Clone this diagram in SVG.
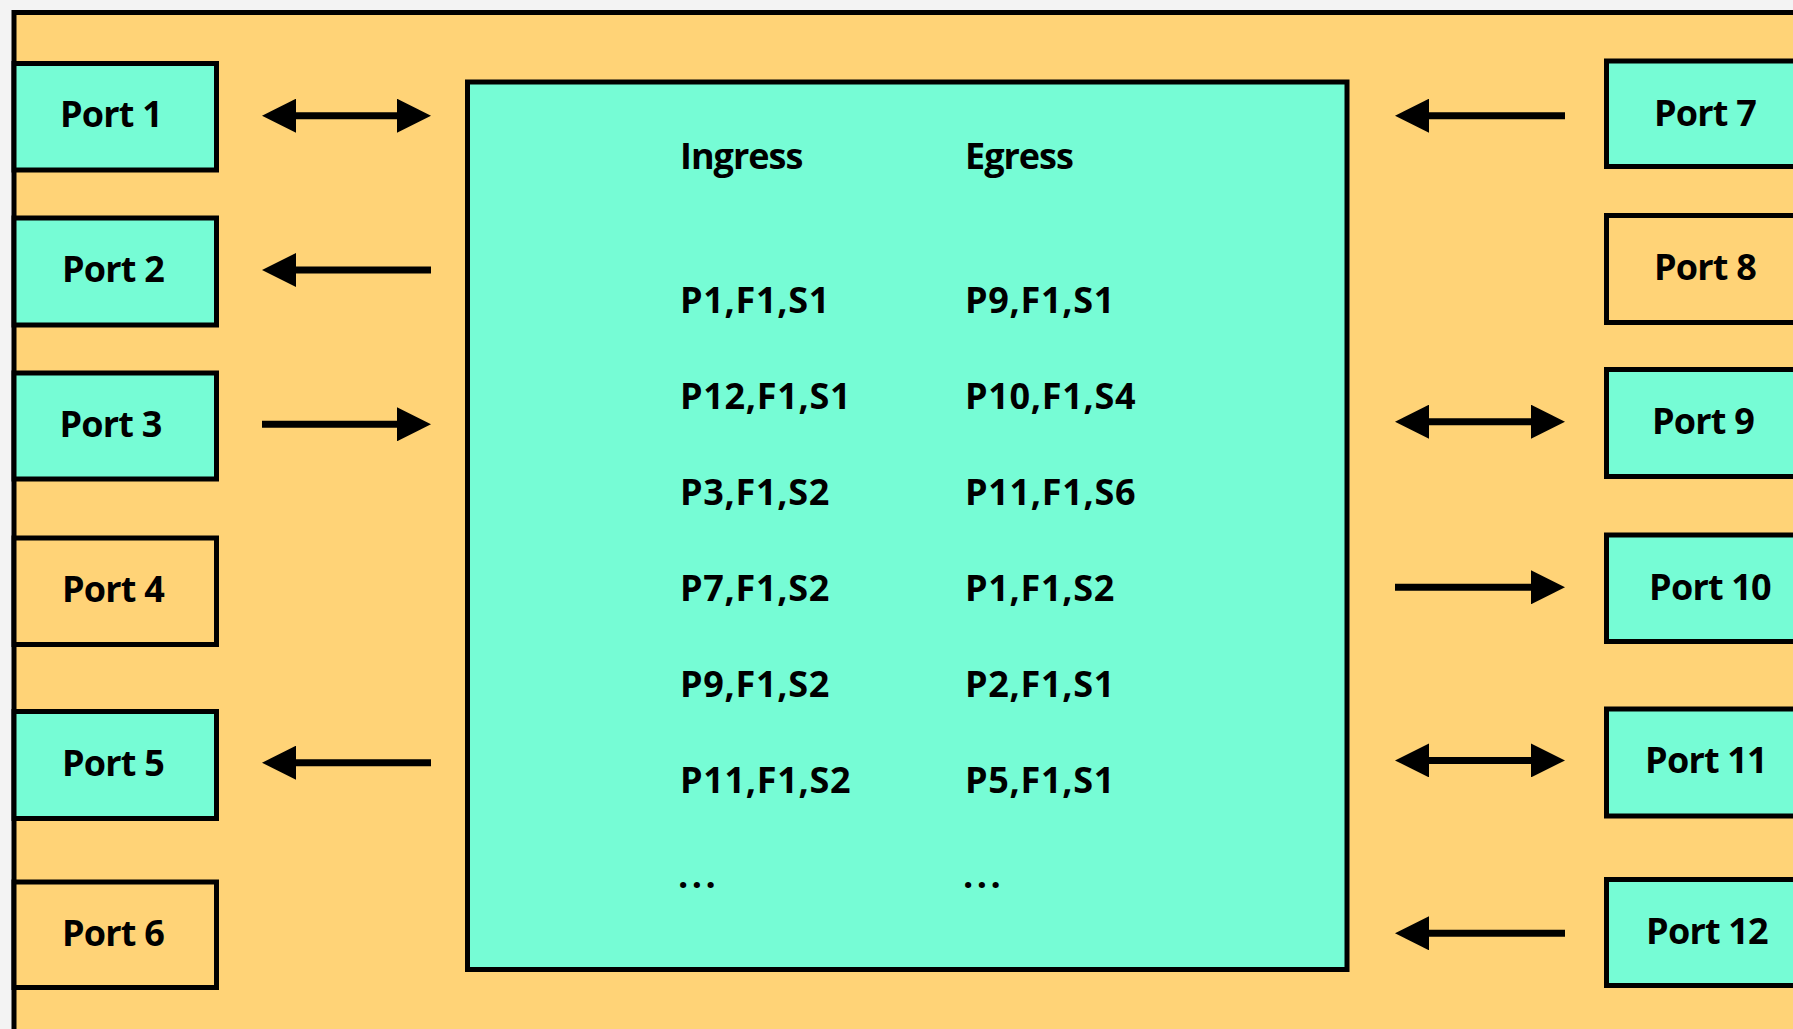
<svg xmlns="http://www.w3.org/2000/svg" width="1793" height="1029" viewBox="0 0 1793 1029">
  <style>
    .frame { fill: #FFD377; stroke: #000; stroke-width: 5; }
    .teal { fill: #76FCD5; stroke: #000; stroke-width: 5; }
    .amber { fill: #FFD377; stroke: #000; stroke-width: 5; }
    .lbl { font-family: "Open Sans", "Liberation Sans", sans-serif; font-weight: bold; font-size: 36px; fill: #000; text-anchor: middle; letter-spacing: -0.8px; }
    .tbl { font-family: "Open Sans", "Liberation Sans", sans-serif; font-weight: bold; font-size: 36px; fill: #000; letter-spacing: 0.7px; }
    .head { letter-spacing: -1px; }
    .dots { letter-spacing: 3.5px; }
    .link { stroke: #000; stroke-width: 7; fill: none; }
    .one { marker-end: url(#head); }
    .two { marker-start: url(#head); marker-end: url(#head); }
  </style>
  <defs>
    <marker id="head" markerUnits="userSpaceOnUse" markerWidth="34" markerHeight="34" viewBox="0 0 34 34" refX="4" refY="17" orient="auto-start-reverse">
      <path d="M0,0 L34,17 L0,34 Z" fill="#000"/>
    </marker>
  </defs>

  <!-- page background and outer frame (open to the right and bottom) -->
  <rect x="0" y="0" width="1793" height="1029" fill="#F3F3F3"/>
  <rect class="frame" x="14" y="12.5" width="1800" height="1040"/>

  <!-- forwarding table -->
  <g id="table">
    <rect class="teal" x="467.5" y="82" width="879.5" height="887.5"/>
    <text class="tbl head" x="680" y="169">Ingress</text>
    <text class="tbl head" x="965" y="169">Egress</text>
    <text class="tbl" x="680" y="312.7">P1,F1,S1</text>
    <text class="tbl" x="965" y="312.7">P9,F1,S1</text>
    <text class="tbl" x="680" y="408.7">P12,F1,S1</text>
    <text class="tbl" x="965" y="408.7">P10,F1,S4</text>
    <text class="tbl" x="680" y="504.7">P3,F1,S2</text>
    <text class="tbl" x="965" y="504.7">P11,F1,S6</text>
    <text class="tbl" x="680" y="600.7">P7,F1,S2</text>
    <text class="tbl" x="965" y="600.7">P1,F1,S2</text>
    <text class="tbl" x="680" y="696.7">P9,F1,S2</text>
    <text class="tbl" x="965" y="696.7">P2,F1,S1</text>
    <text class="tbl" x="680" y="792.7">P11,F1,S2</text>
    <text class="tbl" x="965" y="792.7">P5,F1,S1</text>
    <text class="tbl dots" x="678" y="888">...</text>
    <text class="tbl dots" x="963" y="888">...</text>
  </g>

  <!-- left ports -->
  <g id="port1"><rect class="teal" x="14" y="63.5" width="202.5" height="106.5"/><text class="lbl" x="111" y="127">Port 1</text></g>
  <g id="port2"><rect class="teal" x="14" y="218" width="202.5" height="107"/><text class="lbl" x="113" y="282">Port 2</text></g>
  <g id="port3"><rect class="teal" x="14" y="373" width="202.5" height="106"/><text class="lbl" x="110.5" y="437">Port 3</text></g>
  <g id="port4"><rect class="amber" x="14" y="538" width="202.5" height="106.5"/><text class="lbl" x="113" y="602">Port 4</text></g>
  <g id="port5"><rect class="teal" x="14" y="711.5" width="202.5" height="107"/><text class="lbl" x="113" y="776">Port 5</text></g>
  <g id="port6"><rect class="amber" x="14" y="882" width="202.5" height="105.5"/><text class="lbl" x="113" y="946">Port 6</text></g>

  <!-- right ports -->
  <g id="port7"><rect class="teal" x="1606.5" y="61" width="220" height="105.5"/><text class="lbl" x="1705" y="125.5">Port 7</text></g>
  <g id="port8"><rect class="amber" x="1606.5" y="215.5" width="220" height="107"/><text class="lbl" x="1705" y="280">Port 8</text></g>
  <g id="port9"><rect class="teal" x="1606.5" y="369.5" width="220" height="107"/><text class="lbl" x="1703" y="434">Port 9</text></g>
  <g id="port10"><rect class="teal" x="1606.5" y="535" width="220" height="106.5"/><text class="lbl" x="1710" y="599.5">Port 10</text></g>
  <g id="port11"><rect class="teal" x="1606.5" y="709" width="220" height="107"/><text class="lbl" x="1706" y="773">Port 11</text></g>
  <g id="port12"><rect class="teal" x="1606.5" y="879.5" width="220" height="106"/><text class="lbl" x="1707" y="944">Port 12</text></g>

  <!-- connectors between ports and the table -->
  <g id="connectors">
    <line class="link two" x1="292" y1="115.7" x2="401" y2="115.7"/>
    <line class="link one" x1="431" y1="270" x2="292" y2="270"/>
    <line class="link one" x1="262" y1="424.3" x2="401" y2="424.3"/>
    <line class="link one" x1="431" y1="762.7" x2="292" y2="762.7"/>
    <line class="link one" x1="1565" y1="115.7" x2="1425" y2="115.7"/>
    <line class="link two" x1="1425" y1="421.7" x2="1535" y2="421.7"/>
    <line class="link one" x1="1395" y1="587.3" x2="1535" y2="587.3"/>
    <line class="link two" x1="1425" y1="760.4" x2="1535" y2="760.4"/>
    <line class="link one" x1="1565" y1="933.3" x2="1425" y2="933.3"/>
  </g>
</svg>
